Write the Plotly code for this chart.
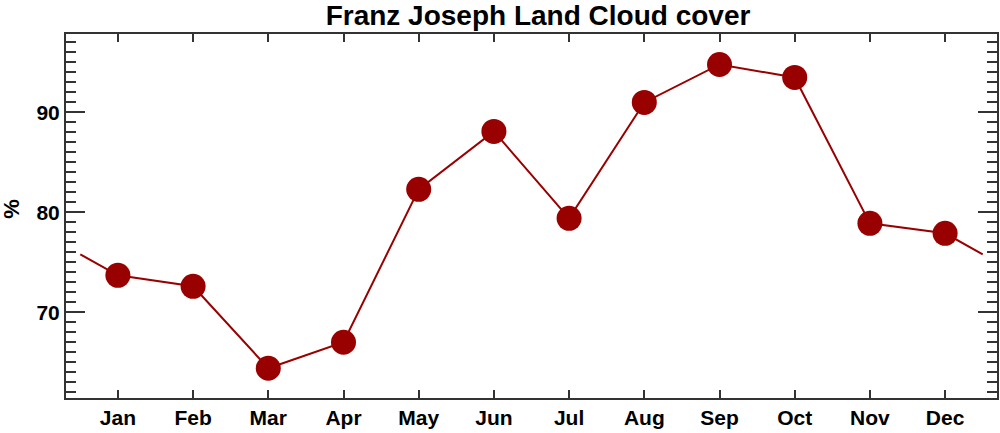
import plotly.graph_objects as go

FONT = "Liberation Sans, Arial, Helvetica, sans-serif"
RED = "#990000"
AXIS = "#333333"

months = ["Jan", "Feb", "Mar", "Apr", "May", "Jun", "Jul", "Aug", "Sep", "Oct", "Nov", "Dec"]
month_pos = [1, 2, 3, 4, 5, 6, 7, 8, 9, 10, 11, 12]
cloud = [73.7, 72.6, 64.4, 67.0, 82.3, 88.1, 79.4, 91.0, 94.8, 93.5, 78.9, 77.9]

# line wraps round the year: half a month before Jan and after Dec
wrap_pos = [0.5, 12.5]
wrap_val = [75.8, 75.8]

line_x = [wrap_pos[0]] + month_pos + [wrap_pos[1]]
line_y = [wrap_val[0]] + cloud + [wrap_val[1]]

fig = go.Figure()
fig.add_trace(go.Scatter(x=line_x, y=line_y, mode="lines",
                         line=dict(color=RED, width=2), hoverinfo="skip"))
fig.add_trace(go.Scatter(x=month_pos, y=cloud, mode="markers",
                         marker=dict(color=RED, size=25, line=dict(width=0))))

fig.update_layout(
    width=1000, height=433,
    margin=dict(l=66, r=3, t=34, b=35, autoexpand=False),
    paper_bgcolor="white", plot_bgcolor="white",
    showlegend=False,
    font=dict(family=FONT, size=21, color="black"),
    title=dict(text="<b>Franz Joseph Land Cloud cover</b>", x=0.538, xanchor="center",
               y=0.965, yanchor="middle", font=dict(family=FONT, size=28, color="black")),
)
fig.add_annotation(text="<b>%</b>", xref="paper", yref="paper", x=-0.058, y=0.52,
                   xanchor="center", yanchor="middle",
                   showarrow=False, textangle=-90, font=dict(size=22))
fig.update_xaxes(
    range=[0.31, 12.69], tickvals=month_pos, ticktext=[f"<b>{m}</b>" for m in months],
    ticks="inside", ticklen=8, tickwidth=1.5, tickcolor=AXIS,
    showline=True, linecolor=AXIS, linewidth=2, mirror="allticks",
    showgrid=False, zeroline=False, automargin=False,
)
fig.update_yaxes(
    range=[61.42, 97.85], tickvals=[70, 80, 90], ticktext=["<b>70</b>", "<b>80</b>", "<b>90</b>"],
    ticks="inside", ticklen=19, tickwidth=1.5, tickcolor=AXIS,
    minor=dict(dtick=1, ticks="inside", ticklen=10, tickwidth=1.5, tickcolor=AXIS, showgrid=False),
    showline=True, linecolor=AXIS, linewidth=2, mirror="allticks",
    showgrid=False, zeroline=False, automargin=False,
)

# drop the page's default body margin so the figure sits at the window corner
fig.write_html("out.html", config={"displayModeBar": False},
               post_script="document.body.style.margin='0';")
